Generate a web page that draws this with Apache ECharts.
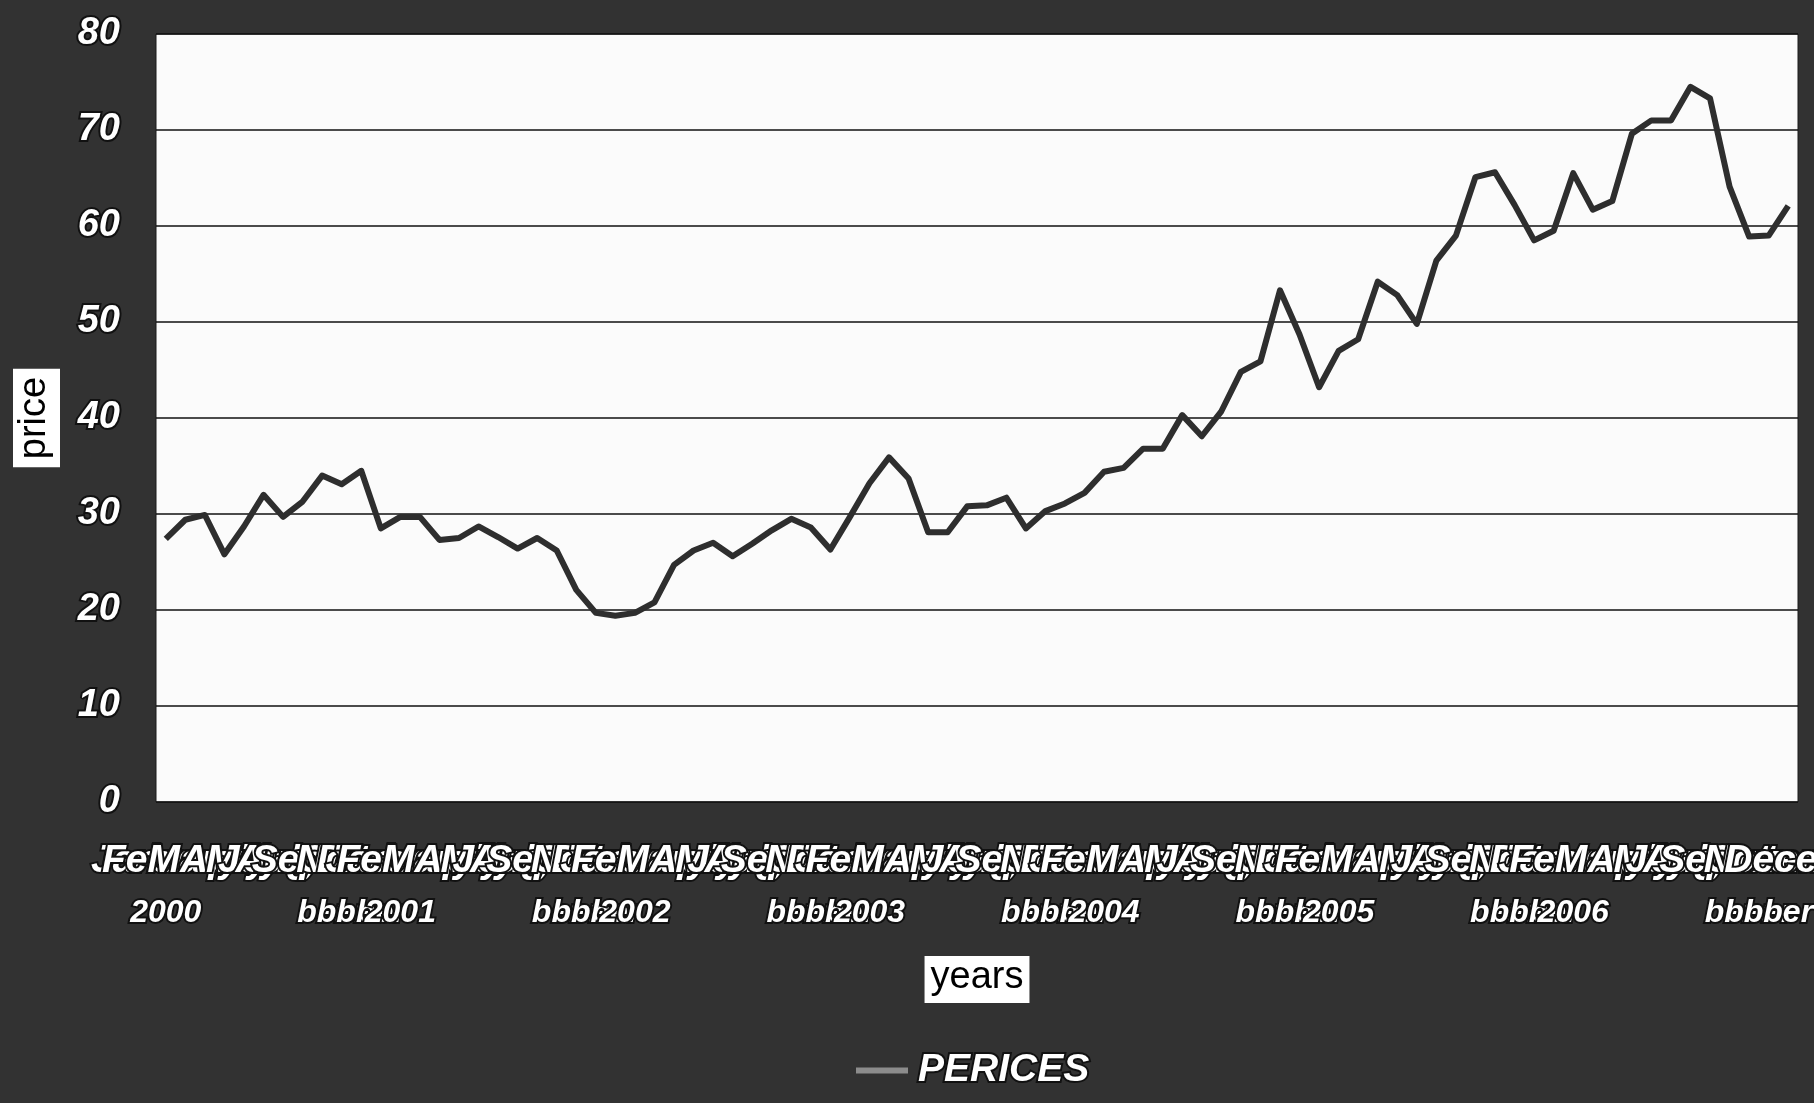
<!DOCTYPE html>
<html>
<head>
<meta charset="utf-8">
<title>PERICES</title>
<script src="https://cdn.jsdelivr.net/npm/echarts@6/dist/echarts.min.js"></script>
<style>
  html, body { margin: 0; padding: 0; background: #323232; }
  #chart { width: 1814px; height: 1103px; }
</style>
</head>
<body>
<div id="chart"></div>
<script>
// Monthly prices, January to December of each year
const years = ['2000', '2001', '2002', '2003', '2004', '2005', '2006'];
const monthLabels = ['January', 'February', 'March', 'April', 'May', 'June', 'July',
  'August', 'Septem\nber', 'Octo\nber', 'Novem\nber', 'Decem\nber'];

const price2000 = [27.4, 29.4, 29.9, 25.8, 28.7, 32.0, 29.7, 31.3, 34.0, 33.1, 34.5, 28.5];
const price2001 = [29.7, 29.7, 27.3, 27.5, 28.7, 27.6, 26.4, 27.5, 26.2, 22.1, 19.7, 19.4];
const price2002 = [19.7, 20.8, 24.7, 26.2, 27.0, 25.6, 26.9, 28.3, 29.5, 28.6, 26.3, 29.7];
const price2003 = [33.2, 35.9, 33.7, 28.1, 28.1, 30.8, 30.9, 31.7, 28.5, 30.3, 31.1, 32.2];
const price2004 = [34.4, 34.8, 36.8, 36.8, 40.3, 38.1, 40.7, 44.8, 45.9, 53.3, 48.7, 43.2];
const price2005 = [47.0, 48.2, 54.2, 52.8, 49.8, 56.4, 59.0, 65.1, 65.6, 62.2, 58.5, 59.5];
const price2006 = [65.5, 61.7, 62.6, 69.6, 71.0, 71.0, 74.5, 73.3, 64.1, 58.9, 59.0, 62.1];

const priceTicks = [0, 10, 20, 30, 40, 50, 60, 70, 80];

// Category labels: the year goes under January
const categories = [];
years.forEach(y => {
  monthLabels.forEach((m, i) => {
    categories.push(i === 0 ? m + '\n' + y : m);
  });
});
const prices = [].concat(price2000, price2001, price2002, price2003, price2004, price2005, price2006);

const outlined = {
  color: '#ffffff',
  fontFamily: 'Liberation Sans, Arial, sans-serif',
  fontWeight: 'bold',
  fontStyle: 'italic',
  textBorderColor: '#111',
  textBorderWidth: 4
};

const boxed = {
  color: '#000',
  backgroundColor: '#ffffff',
  fontFamily: 'Liberation Sans, Arial, sans-serif',
  fontSize: 38
};

// First label line (month) is set larger than the wrapped second line
function categoryLabel(value) {
  const parts = value.split('\n');
  return parts.map((p, i) => (i === 0 ? '{m|' : '{s|') + p + '}').join('\n');
}

const chart = echarts.init(document.getElementById('chart'), null, { renderer: 'canvas' });

chart.setOption({
  backgroundColor: '#323232',
  animation: false,
  grid: {
    left: 156,
    right: 16,
    top: 34,
    bottom: 301,
    containLabel: false,
    outerBoundsMode: 'none',
    show: true,
    backgroundColor: '#fbfbfb',
    borderColor: '#1a1a1a',
    borderWidth: 1
  },
  legend: {
    top: 1049,
    left: 856,
    padding: 0,
    icon: 'rect',
    itemWidth: 52,
    itemHeight: 6,
    data: [{ name: 'PERICES', itemStyle: { color: '#8c8c8c' } }],
    textStyle: Object.assign({ fontSize: 39, padding: [0, 0, 0, 5] }, outlined)
  },
  xAxis: {
    type: 'category',
    data: categories,
    boundaryGap: true,
    name: 'years',
    nameLocation: 'middle',
    nameGap: 154,
    nameTextStyle: Object.assign({ padding: [3, 6, 6, 6] }, boxed),
    axisLine: { show: false },
    axisTick: { show: false },
    splitLine: { show: false },
    axisLabel: Object.assign({
      interval: 0,
      fontSize: 32,
      lineHeight: 52,
      margin: 33,
      formatter: categoryLabel,
      rich: {
        m: Object.assign({ fontSize: 39, lineHeight: 52 }, outlined),
        s: Object.assign({ fontSize: 32, lineHeight: 52 }, outlined)
      }
    }, outlined)
  },
  yAxis: {
    type: 'value',
    min: priceTicks[0],
    max: priceTicks[priceTicks.length - 1],
    interval: 10,
    name: 'price',
    nameLocation: 'middle',
    nameRotate: 90,
    nameGap: 96,
    nameTextStyle: Object.assign({ padding: [3, 8, 6, 8] }, boxed),
    axisLine: { show: false },
    axisTick: { show: false },
    splitLine: { show: true, lineStyle: { color: '#111', width: 1.5 } },
    axisLabel: Object.assign({ fontSize: 38, margin: 36 }, outlined)
  },
  series: [{
    name: 'PERICES',
    type: 'line',
    data: prices,
    symbol: 'none',
    lineStyle: { color: '#2e2e2e', width: 6, join: 'round' },
    itemStyle: { color: '#2e2e2e' }
  }]
});
</script>
</body>
</html>
